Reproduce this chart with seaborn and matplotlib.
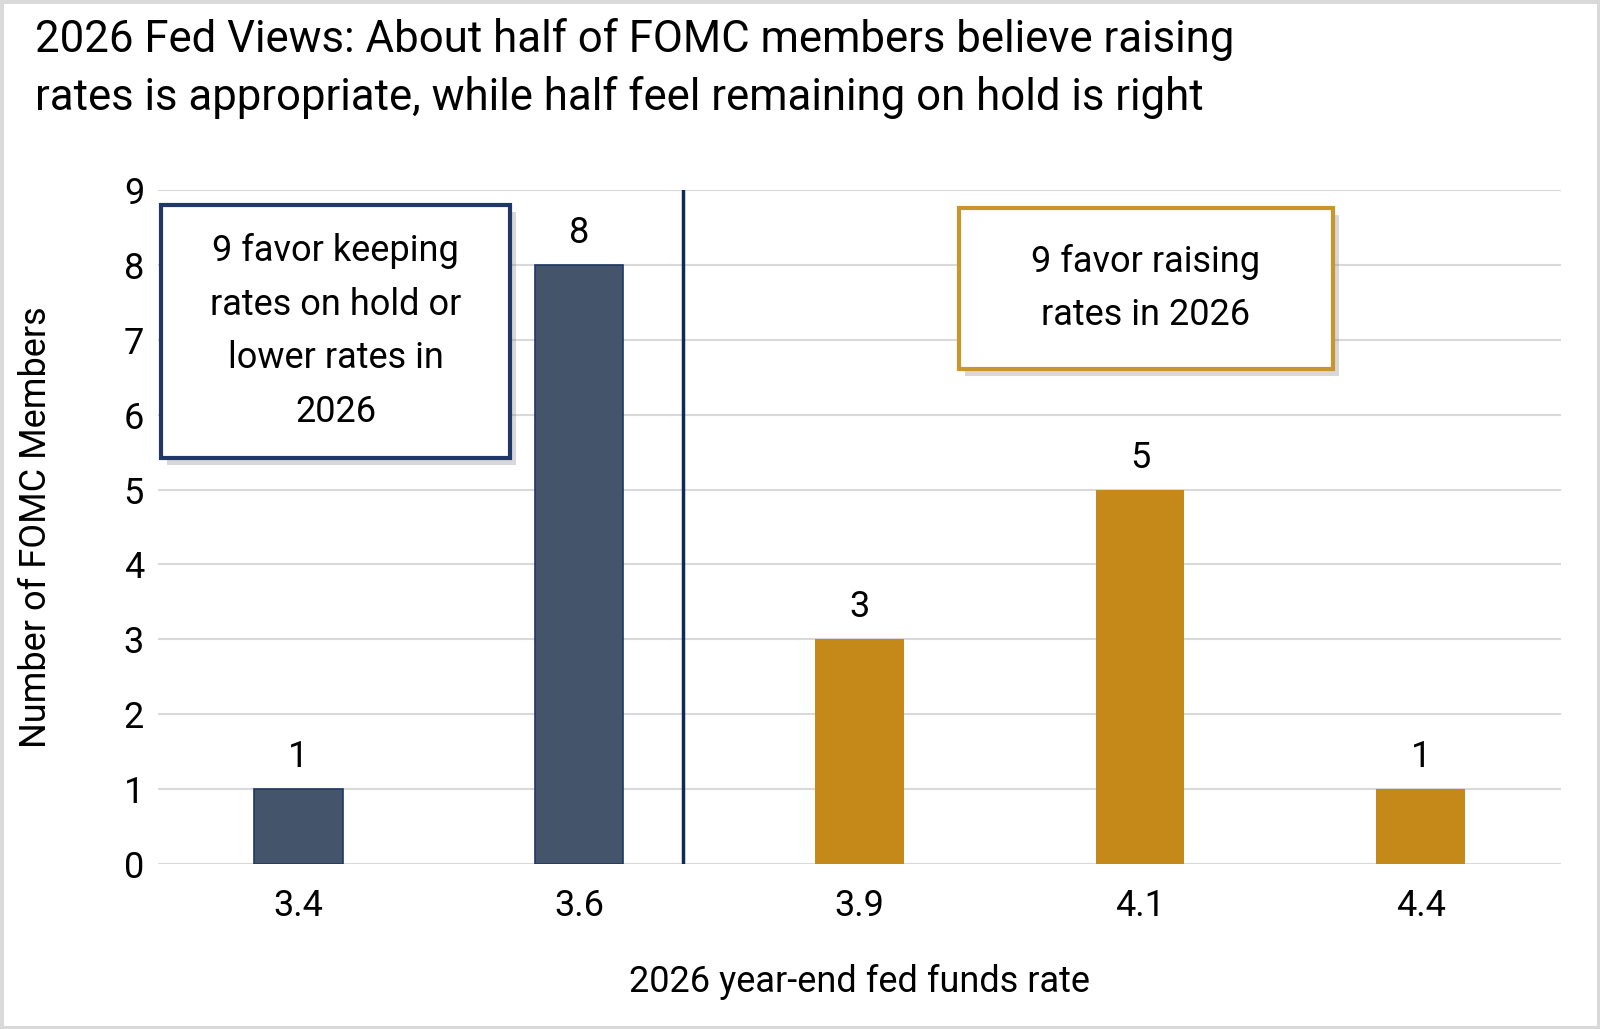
import matplotlib
matplotlib.use("Agg")
import matplotlib.pyplot as plt
import matplotlib.patheffects as pe
from matplotlib.patches import Rectangle
import seaborn as sns
import pandas as pd

# ---- data ----
rates = ["3.4", "3.6", "3.9", "4.1", "4.4"]
members = [1, 8, 3, 5, 1]
groups = ["hold", "hold", "raise", "raise", "raise"]
title_text = ("2026 Fed Views: About half of FOMC members believe raising\n"
              "rates is appropriate, while half feel remaining on hold is right")
hold_note = "9 favor keeping\nrates on hold or\nlower rates in\n2026"
raise_note = "9 favor raising\nrates in 2026"
x_label = "2026 year-end fed funds rate"
y_label = "Number of FOMC Members"

NAVY_FILL = "#44546A"
NAVY_EDGE = "#1F3864"
GOLD = "#C5891A"
GOLD_EDGE = "#C8962A"
GRID = "#D9D9D9"
FS = 26

sns.set_theme(style="white")
plt.rcParams["font.family"] = ["Roboto", "DejaVu Sans"]

df = pd.DataFrame({"rate": rates, "members": members, "group": groups})

fig = plt.figure(figsize=(16, 10.29), dpi=100)
fig.patch.set_facecolor("white")
fig.patch.set_edgecolor(GRID)
fig.patch.set_linewidth(5)
ax = fig.add_axes([158 / 1600, 1 - 864 / 1029, (1561 - 158) / 1600, (864 - 190) / 1029])

sns.barplot(data=df, x="rate", y="members", hue="group",
            palette={"hold": NAVY_FILL, "raise": GOLD}, dodge=False,
            width=0.316, ax=ax, legend=False, saturation=1)
for p in ax.patches:
    fc = p.get_facecolor()
    if abs(fc[0] - 0x44 / 255) < 0.02:
        p.set_edgecolor(NAVY_EDGE)
        p.set_linewidth(1.2)
    else:
        p.set_linewidth(0)

for c in ax.containers:
    ax.bar_label(c, fmt="%d", padding=10, fontsize=FS, color="black")

ax.set_xlim(-0.5, len(rates) - 0.5)
ax.set_ylim(0, 9)
ax.set_yticks(range(0, 10))
ax.yaxis.grid(True, color=GRID, linewidth=1.5)
ax.set_axisbelow(True)
for s in ax.spines.values():
    s.set_visible(False)
ax.tick_params(axis="x", length=0, pad=17, labelsize=FS, labelcolor="black")
ax.tick_params(axis="y", length=0, pad=10, labelsize=FS, labelcolor="black")

ax.axvline(1.37, ymin=0, ymax=1, color="#0E2A5C", linewidth=2.5)

ax.set_xlabel(x_label, fontsize=FS, color="black")
ax.xaxis.set_label_coords(0.5, (864 - 982) / 674)
ax.xaxis.label.set_va("center")
ax.set_ylabel(y_label, fontsize=FS, color="black")
ax.yaxis.set_label_coords((36 - 158) / 1403, 0.5)
ax.yaxis.label.set_va("center")

fig.text(35 / 1600, 1 - 18 / 1029, title_text, fontsize=31.5, va="top", ha="left",
         color="black", linespacing=1.45)

shadow = [pe.SimplePatchShadow(offset=(4, -5), alpha=0.3, shadow_rgbFace="#7f7f7f"), pe.Normal()]

def note_box(x0, x1, ytop, ybot, edge, text):
    r = Rectangle((x0 / 1600, 1 - ybot / 1029), (x1 - x0) / 1600, (ybot - ytop) / 1029,
                  transform=fig.transFigure, facecolor="white", edgecolor=edge,
                  linewidth=3, zorder=5)
    r.set_path_effects(shadow)
    fig.add_artist(r)
    fig.text((x0 + x1) / 2 / 1600, 1 - (ytop + ybot) / 2 / 1029, text,
             ha="center", va="center", fontsize=FS, linespacing=1.62,
             color="black", zorder=6)

note_box(161, 510, 205, 458, NAVY_EDGE, hold_note)
note_box(959, 1333, 208, 369, GOLD_EDGE, raise_note)

fig.savefig("out.png", dpi=100)
